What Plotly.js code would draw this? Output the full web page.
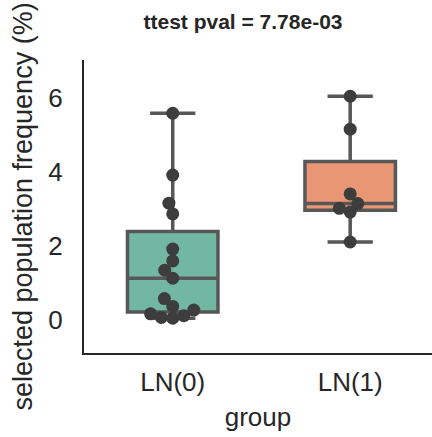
<!DOCTYPE html>
<html>
<head>
<meta charset="utf-8">
<script src="https://cdn.plot.ly/plotly-3.0.1.min.js"></script>
<style>
  html, body { margin: 0; padding: 0; background: #ffffff; }
  #chart { width: 432px; height: 437px; }
</style>
</head>
<body>
<div id="chart"></div>
<script>
// ---- data ----
const categories = ["LN(0)", "LN(1)"];
const groupLN0 = [0.05, 0.07, 0.12, 0.17, 0.27, 0.37, 0.58, 1.13, 1.35, 1.60, 1.92, 2.87, 3.16, 3.92, 5.59];
const groupLN1 = [2.11, 2.92, 3.02, 3.15, 3.41, 5.16, 6.05];
const yTickVals = [0, 2, 4, 6];
const titleText = "ttest pval = 7.78e-03";
const xTitle = "group";
const yTitle = "selected population frequency (%)";

const boxFill = ["#72b7a1", "#e99675"];
const lineColor = "#575757";
const dotColor = "#3d3d3d";

// ---- layout geometry ----
const W = 432, H = 437;
const margin = { l: 84, r: 0, t: 60, b: 84 };
const xRange = [-0.5, 1.461];
const yRange = [-0.89, 7.03];
const plotW = W - margin.l - margin.r;
const plotH = H - margin.t - margin.b;
const pxPerX = plotW / (xRange[1] - xRange[0]);
const pxPerY = plotH / (yRange[1] - yRange[0]);
const markerSize = 13;
const swarmSpacing = 11.4;

// beeswarm (like seaborn swarmplot) computed in pixel space
function swarm(values, center) {
  const d = swarmSpacing;
  const order = values.map((v, i) => i).sort((a, b) => values[a] - values[b]);
  const placed = [];
  const xs = new Array(values.length);
  order.forEach(idx => {
    const yp = values[idx] * pxPerY;
    const cands = [0];
    let leftFirst = true;
    placed.forEach(p => {
      const dy = yp - p.y;
      if (Math.abs(dy) < d) {
        const dx = Math.sqrt(Math.max(d * d - dy * dy, 0));
        const cl = p.x - dx, cr = p.x + dx;
        if (leftFirst) { cands.push(cl, cr); } else { cands.push(cr, cl); }
        leftFirst = !leftFirst;
      }
    });
    const sorted = cands.map((c, i) => ({ c, i })).sort((a, b) => (Math.abs(a.c) - Math.abs(b.c)) || (a.i - b.i));
    let chosen = 0;
    for (const s of sorted) {
      const ok = placed.every(p => Math.hypot(p.x - s.c, p.y - yp) >= d - 0.01);
      if (ok) { chosen = s.c; break; }
    }
    placed.push({ x: chosen, y: yp });
    xs[idx] = center + chosen / pxPerX;
  });
  return xs;
}

const groups = [groupLN0, groupLN1];
const traces = [];
groups.forEach((vals, gi) => {
  traces.push({
    type: "box",
    x: vals.map(() => gi),
    y: vals,
    name: categories[gi],
    width: 0.51,
    whiskerwidth: 0.5,
    boxpoints: false,
    quartilemethod: "inclusive",
    fillcolor: boxFill[gi],
    line: { color: lineColor, width: 3.5 },
    hoverinfo: "skip",
    showlegend: false
  });
});
groups.forEach((vals, gi) => {
  traces.push({
    type: "scatter",
    mode: "markers",
    x: swarm(vals, gi),
    y: vals,
    marker: { size: markerSize, color: dotColor, line: { width: 0 } },
    hoverinfo: "skip",
    showlegend: false,
    cliponaxis: false
  });
});

const fontFamily = "Liberation Sans, Arial, sans-serif";
const layout = {
  width: W,
  height: H,
  margin: margin,
  paper_bgcolor: "#ffffff",
  plot_bgcolor: "#ffffff",
  boxmode: "overlay",
  font: { family: fontFamily, color: "#262626", size: 26 },
  title: {
    text: "<b>" + titleText + "</b>",
    font: { family: fontFamily, size: 21, color: "#262626" },
    xref: "container", yref: "container",
    x: 243 / W, xanchor: "center",
    y: 1 - 22 / H, yanchor: "middle"
  },
  xaxis: {
    type: "linear",
    range: xRange,
    tickvals: [0, 1],
    ticktext: categories,
    showgrid: false,
    zeroline: false,
    showline: true,
    linecolor: "#262626",
    linewidth: 2,
    ticks: "",
    ticklabelstandoff: 5,
    tickfont: { size: 26, color: "#262626" },
    title: { text: xTitle, font: { size: 26, color: "#262626" }, standoff: 12 }
  },
  yaxis: {
    range: yRange,
    tickvals: yTickVals,
    showgrid: false,
    zeroline: false,
    showline: true,
    linecolor: "#262626",
    linewidth: 2,
    ticks: "",
    ticklabelstandoff: 14,
    tickfont: { size: 26, color: "#262626" },
    title: { text: yTitle, font: { size: 27, color: "#262626" }, standoff: 8 }
  }
};

Plotly.newPlot("chart", traces, layout, { staticPlot: true, displayModeBar: false });
</script>
</body>
</html>
